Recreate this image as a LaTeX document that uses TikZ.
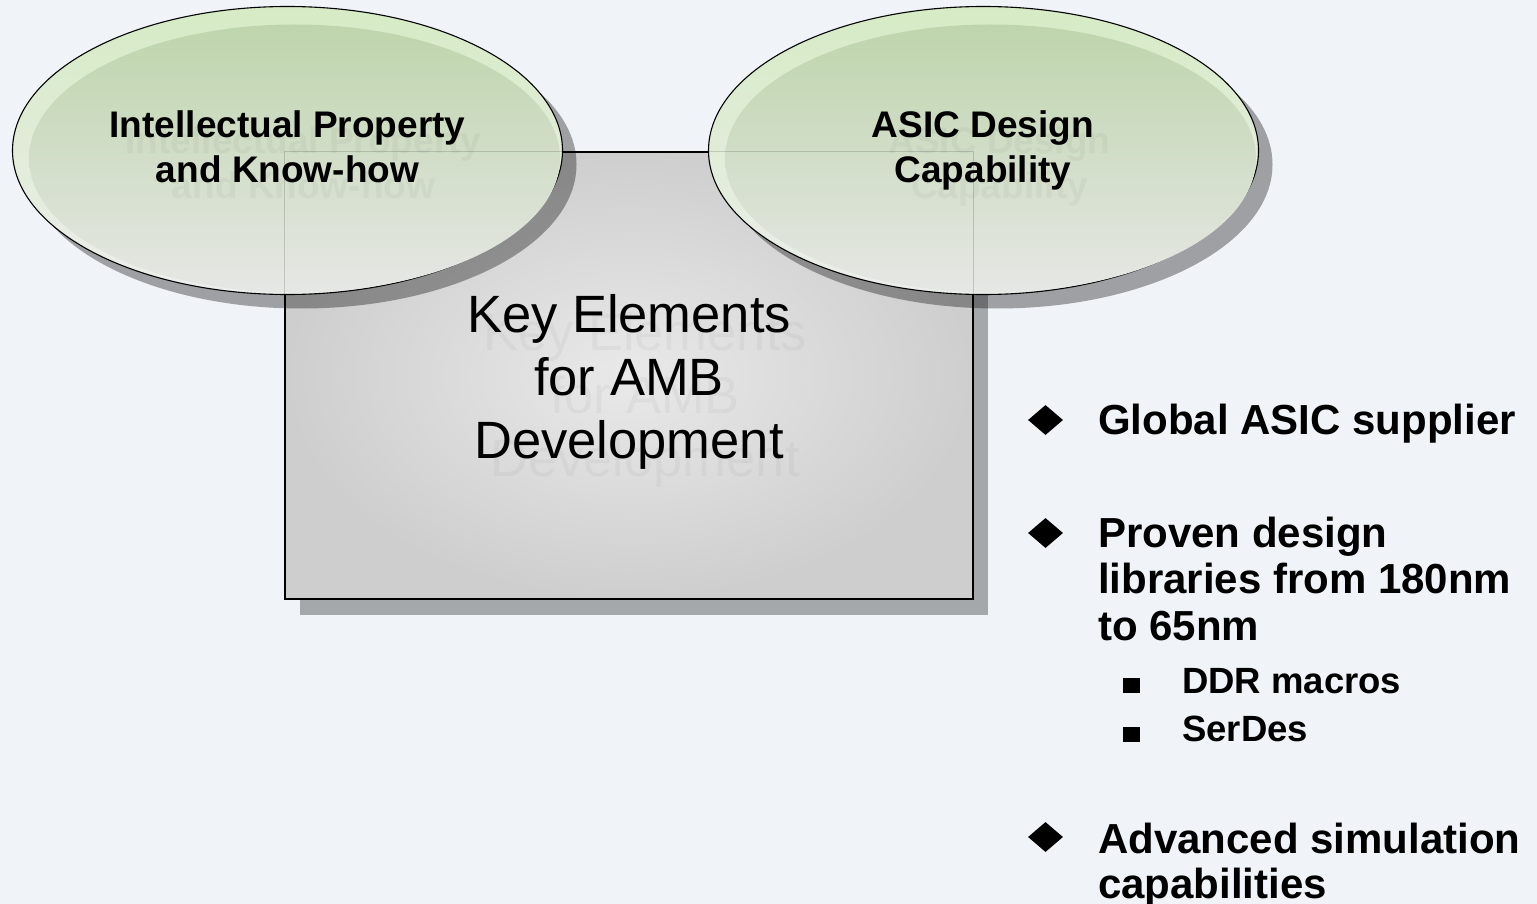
\documentclass[tikz,border=0pt]{standalone}
\usepackage{fontspec}
\setmainfont{Liberation Sans}
\usetikzlibrary{shapes.geometric,shadows}

\definecolor{slidebg}{RGB}{240,244,248}
\definecolor{rimtop}{RGB}{214,235,197}
\definecolor{rimbot}{RGB}{236,238,236}
\definecolor{coretop}{RGB}{190,213,172}
\definecolor{corebot}{RGB}{230,231,229}
\definecolor{boxin}{RGB}{233,233,233}
\definecolor{boxout}{RGB}{206,206,207}

\begin{document}
\begin{tikzpicture}
[x=1pt,y=-1pt,%
  every node/.style={inner sep=0pt},%
  bubble/.style={shape=ellipse,draw,line width=1.1pt,%
    minimum width=550pt,minimum height=288pt,%
    top color=rimtop,bottom color=rimbot,%
    drop shadow={shadow xshift=14pt,shadow yshift=-14pt,fill=black,opacity=0.34}},%
  bubblecore/.style={top color=coretop,bottom color=corebot},%
  keybox/.style={shape=rectangle,draw,line width=1.1pt,%
    minimum width=688pt,minimum height=447pt,%
    shading=radial,inner color=boxin,outer color=boxout,%
    drop shadow={shadow xshift=15pt,shadow yshift=-16pt,fill=black,opacity=0.31}},%
  bubbletext/.style={font=\fontsize{37}{45}\selectfont\bfseries,align=center,anchor=base},%
  keytext/.style={font=\fontsize{52.5}{63}\selectfont,align=center,anchor=base},%
  ghost/.style={opacity=0.035},%
  item/.style={font=\fontsize{42}{46.5}\selectfont\bfseries,align=left,anchor=base west},%
  subitem/.style={font=\fontsize{36.5}{49}\selectfont\bfseries,anchor=base west},%
  diabullet/.style={shape=diamond,fill=black,minimum width=35pt,minimum height=30pt},%
  sqbullet/.style={shape=rectangle,fill=black,minimum width=17pt,minimum height=15pt}]
\useasboundingbox[fill=slidebg] (0,0) rectangle (1537,904);

% centre box and the two bubbles
\node[keybox] (key) at (629,375.5) {};
\node[bubble] (ip) at (287.5,150.5) {};
\shade[bubblecore] ([shift={(7,8)}]ip.center) ellipse (265.5pt and 134pt);
\node[bubble] (asic) at (983.5,150.5) {};
\shade[bubblecore] ([shift={(7,8)}]asic.center) ellipse (265.5pt and 134pt);
\draw[opacity=0.15,line width=1.1pt] (key.north west) rectangle (key.south east);

% faint echoes of the titles (base = last line)
\node[bubbletext,ghost] at (303.5,199) {Intellectual Property\\and Know-how};
\node[bubbletext,ghost] at (999.5,199) {ASIC Design\\Capability};
\node[keytext,ghost] at (645,476) {Key Elements\\for AMB\\Development};

% titles
\node[bubbletext] (iptext) at (287.5,183) {Intellectual Property\\and Know-how};
\node[bubbletext] (asictext) at (983,183) {ASIC Design\\Capability};
\node[keytext] (keytext) at (629,458) {Key Elements\\for AMB\\Development};

% bullet list
\node[diabullet] (b1) at (1045.5,420) {};
\node[item] (t1) at (1098,434) {Global ASIC supplier};
\node[diabullet] (b2) at (1045.5,533) {};
\node[item] (t2) at (1098,640) {Proven design\\libraries from 180nm\\to 65nm};
\node[sqbullet] (s1) at (1131.5,685.5) {};
\node[subitem] (u1) at (1182,693) {DDR macros};
\node[sqbullet] (s2) at (1131.5,734.5) {};
\node[subitem] (u2) at (1182,741) {SerDes};
\node[diabullet] (b3) at (1045.5,837) {};
\node[item,font=\fontsize{42}{45}\selectfont\bfseries] (t3) at (1098,898) {Advanced simulation\\capabilities};
\end{tikzpicture}
\end{document}
